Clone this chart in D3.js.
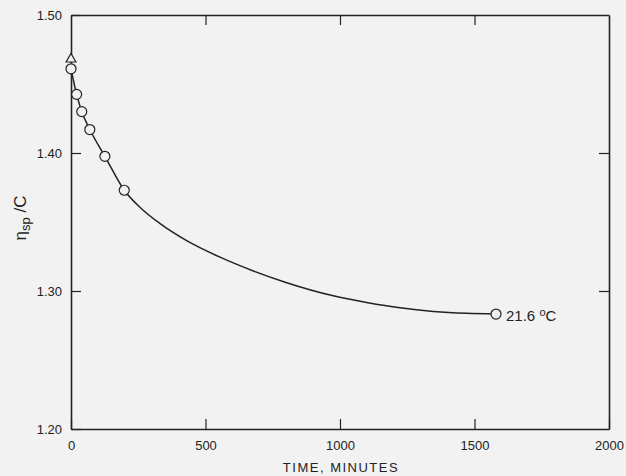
<!DOCTYPE html>
<html>
<head>
<meta charset="utf-8">
<script src="https://cdn.jsdelivr.net/npm/d3@7"></script>
<style>
  body { margin: 0; background: #f2f2f2; }
  svg { display: block; }
  text { font-family: "Liberation Sans", "DejaVu Sans", sans-serif; fill: #222; }
</style>
</head>
<body>
<div id="chart"></div>
<script>
// data
const timeMin = [0, 21, 40, 70, 126, 198, 1580];
const etaC = [1.461, 1.4425, 1.430, 1.417, 1.3976, 1.373, 1.2833];
const triTime = [0];
const triEta = [1.468];

// smooth curve drawn through the points
const curveTime = [0, 21, 40, 70, 126, 198, 260, 330, 430, 554, 678, 802, 975, 1099, 1223, 1347, 1471, 1580];
const curveEta = [1.461, 1.4425, 1.430, 1.417, 1.3976, 1.373, 1.360, 1.349, 1.3365, 1.3245, 1.3145, 1.306, 1.2965, 1.2917, 1.2878, 1.2852, 1.2838, 1.2833];

const xTicks = [0, 500, 1000, 1500, 2000];
const yTicks = [1.20, 1.30, 1.40, 1.50];

const width = 626, height = 476;
const plotL = 71, plotR = 609, plotT = 15, plotB = 429;
const ink = "#222";

const svg = d3.select("#chart").append("svg")
  .attr("width", width)
  .attr("height", height);

const x = d3.scaleLinear().domain([0, 2000]).range([plotL, plotR]);
const y = d3.scaleLinear().domain([1.20, 1.50]).range([plotB, plotT]);

function styleAxis(g) {
  g.select(".domain").attr("stroke", ink).attr("stroke-width", 1.6);
  g.selectAll(".tick line").attr("stroke", ink).attr("stroke-width", 1.2);
  g.selectAll(".tick text").style("font-size", "13px").attr("fill", ink);
}

// bottom axis, ticks pointing in
svg.append("g")
  .attr("transform", `translate(0,${plotB})`)
  .call(d3.axisBottom(x).tickValues(xTicks).tickSizeInner(-10).tickSizeOuter(0).tickPadding(12).tickFormat(d3.format("d")))
  .call(styleAxis);

// top axis, no labels
svg.append("g")
  .attr("transform", `translate(0,${plotT})`)
  .call(d3.axisTop(x).tickValues(xTicks.slice(1, -1)).tickSizeInner(-10).tickSizeOuter(0).tickFormat(""))
  .call(styleAxis);

// left axis
svg.append("g")
  .attr("transform", `translate(${plotL},0)`)
  .call(d3.axisLeft(y).tickValues(yTicks).tickSizeInner(-10).tickSizeOuter(0).tickPadding(9).tickFormat(d3.format(".2f")))
  .call(styleAxis);

// right axis, no labels
svg.append("g")
  .attr("transform", `translate(${plotR},0)`)
  .call(d3.axisRight(y).tickValues(yTicks.slice(1, -1)).tickSizeInner(-10).tickSizeOuter(0).tickFormat(""))
  .call(styleAxis);

// curve
const line = d3.line()
  .x((d, i) => x(curveTime[i]))
  .y(d => y(d))
  .curve(d3.curveMonotoneX);

svg.append("path")
  .datum(curveEta)
  .attr("d", line)
  .attr("fill", "none")
  .attr("stroke", ink)
  .attr("stroke-width", 1.5);

// triangle point
svg.selectAll(".tri")
  .data(triEta)
  .join("path")
  .attr("class", "tri")
  .attr("transform", (d, i) => `translate(${x(triTime[i])},${y(d)})`)
  .attr("d", d3.symbol().type(d3.symbolTriangle).size(42))
  .attr("fill", "#f2f2f2")
  .attr("stroke", ink)
  .attr("stroke-width", 1.2);

// circles
svg.selectAll(".pt")
  .data(etaC)
  .join("circle")
  .attr("class", "pt")
  .attr("cx", (d, i) => x(timeMin[i]))
  .attr("cy", d => y(d))
  .attr("r", 5)
  .attr("fill", "#f2f2f2")
  .attr("stroke", ink)
  .attr("stroke-width", 1.2);

// temperature label
const lastI = timeMin.length - 1;
const tl = svg.append("text")
  .attr("x", x(timeMin[lastI]) + 10)
  .attr("y", y(etaC[lastI]) + 7)
  .style("font-size", "15px");
tl.append("tspan").text("21.6 ");
tl.append("tspan").text("o").style("font-size", "11px").attr("dy", -5);
tl.append("tspan").text("C").attr("dy", 5);

// axis titles
svg.append("text")
  .attr("x", 341)
  .attr("y", 472)
  .attr("text-anchor", "middle")
  .style("font-size", "13px")
  .style("letter-spacing", "1.5px")
  .text("TIME, MINUTES");

const yl = svg.append("text")
  .attr("transform", "translate(26,218) rotate(-90)")
  .attr("text-anchor", "middle")
  .style("font-size", "17px");
yl.append("tspan").text("η");
yl.append("tspan").text("sp").style("font-size", "13px").attr("dy", 4);
yl.append("tspan").text(" /C").attr("dy", -4);
</script>
</body>
</html>
